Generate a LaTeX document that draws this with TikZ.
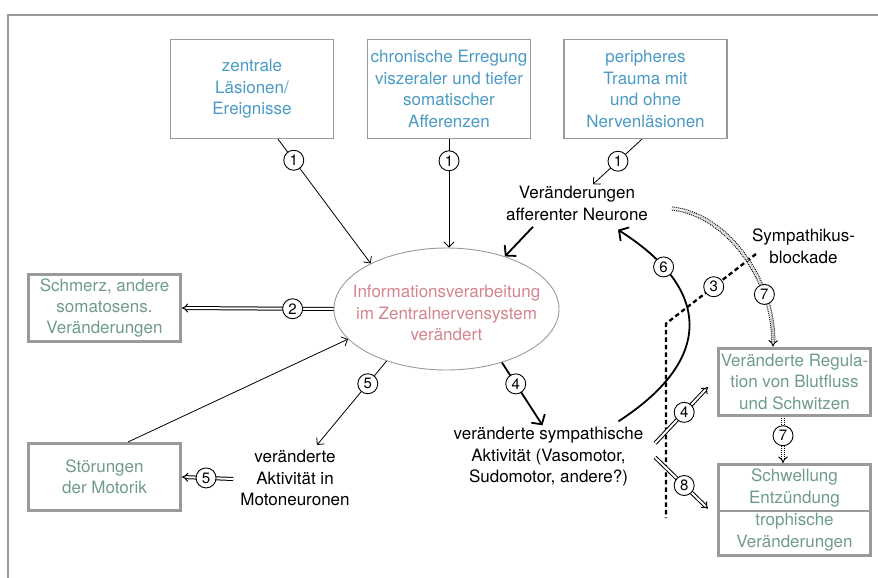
\documentclass[tikz,border=0pt]{standalone}
\usepackage{fontspec}
\setmainfont{TeX Gyre Heros}
\usetikzlibrary{shapes.geometric,arrows.meta,calc}

\definecolor{framegray}{HTML}{9A9A9A}
\definecolor{causeblue}{HTML}{4A9AC4}
\definecolor{effectgreen}{HTML}{6F9C8A}
\definecolor{cnspink}{HTML}{D4848C}

\begin{document}
\begin{tikzpicture}[x=1pt,y=-1pt,
    font=\fontsize{17}{21.5}\selectfont,
    cause/.style={draw=framegray,line width=1.2pt,minimum width=163pt,minimum height=99pt,align=center,text=causeblue,inner sep=0pt},
    effect/.style={draw=framegray,line width=3pt,minimum width=152pt,minimum height=67pt,align=center,text=effectgreen,inner sep=0pt},
    txt/.style={align=center,inner sep=2pt},
    num/.style={circle,draw,fill=white,line width=0.9pt,inner sep=0pt,minimum size=20pt,font=\fontsize{15}{15}\selectfont},
    thinarrow/.style={line width=0.8pt,-{Straight Barb[length=5pt,width=10pt]}},
    thickarrow/.style={line width=1.8pt,-{Straight Barb[length=7pt,width=16pt]}},
    dblarrow/.style={double,double distance=2pt,line width=1pt,-{Implies}},
    dotarrow/.style={double,double distance=2.2pt,line width=1pt,densely dotted,-{Implies}}]
    \useasboundingbox (0,0) rectangle (878,578);
    \draw[framegray,line width=1.5pt] (8,578) -- (8,15) -- (878,15);

    % causes
    \node[cause] (zentrale) at (252,89) {zentrale\\Läsionen/\\Ereignisse};
    \node[cause] (chronisch) at (449,89) {chronische Erregung\\viszeraler und tiefer\\somatischer\\Afferenzen};
    \node[cause] (peripher) at (645.5,89) {peripheres\\Trauma mit\\und ohne\\Nervenläsionen};

    % CNS
    \node[ellipse,draw=framegray,line width=0.9pt,minimum width=225pt,minimum height=122pt,inner sep=0pt] (cns) at (446.5,309) {};
    \node[txt,text=cnspink] (cnstext) at ($(cns.center)+(0,4)$) {Informationsverarbeitung\\im Zentralnervensystem\\verändert};

    % intermediate texts
    \node[txt] (afferent) at (577,203.5) {Veränderungen\\afferenter Neurone};
    \node[txt] (motor) at (295,478) {veränderte\\Aktivität in\\Motoneuronen};
    \node[txt] (sympath) at (548.5,457) {veränderte sympathische\\Aktivität (Vasomotor,\\Sudomotor, andere?)};
    \node[txt] (blockade) at (803.5,246.5) {Sympathikus-\\blockade};

    % effects
    \node[effect] (schmerz) at (104.5,308) {Schmerz, andere\\somatosens.\\Veränderungen};
    \node[effect] (stoerung) at (104.5,477) {Störungen\\der Motorik};
    \node[effect] (regulation) at (794.5,381.5) {Veränderte Regula-\\tion von Blutfluss\\und Schwitzen};
    \node[effect,minimum height=91pt] (folgen) at (794.5,510) {};
    \node[txt,text=effectgreen] (schwellung) at (794.5,488) {Schwellung\\Entzündung};
    \node[txt,text=effectgreen] (trophisch) at (794.5,532) {trophische\\Veränderungen};
    \draw[framegray,line width=1.5pt] (folgen.west |- 0,511) -- (folgen.east |- 0,511);

    % 1
    \draw[thinarrow] ($(zentrale.south)+(26,0)$) -- (cns.149) node[num,pos=0.17] {1};
    \draw[thinarrow] (chronisch.south) -- (chronisch.south |- cns.north) node[num,pos=0.2] {1};
    \draw[thinarrow] ($(peripher.south)+(-3.5,0)$) -- ($(afferent.north)+(16,0)$) node[num,pos=0.49] {1};
    \draw[thickarrow] ($(afferent.south)+(-44,4)$) -- (cns.42);

    % 2
    \draw[dblarrow] (cns.west) -- (schmerz.east) node[num,pos=0.27] {2};

    % motor
    \draw[thinarrow] ($(stoerung.north)+(23.5,0)$) -- (cns.197);
    \draw[thinarrow] (cns.221) -- ($(motor.north)+(22,-3)$) node[num,pos=0.27] {5};
    \draw[dblarrow] ($(motor.west)+(-5,1)$) -- (stoerung.east) node[num,pos=0.53] {5};

    % sympathetic
    \draw[thickarrow] (cns.316) -- ($(sympath.north)+(-6,0)$) node[num,pos=0.34] {4};
    \draw[thickarrow] ($(sympath.north)+(70,-4)$) .. controls (713,360) and (713,290) .. ($(afferent.south)+(41,7)$) node[num,pos=0.8] {6};
    \draw[line width=2.3pt,dash pattern=on 4.5pt off 3pt] (756,254) -- (666,323.6) node[num,pos=0.47,solid] {3} -- (666,518);
    \draw[dotarrow] ($(afferent.east)+(22,5)$) .. controls (730,215) and (775,285) .. ($(regulation.north)+(-21.5,0)$) node[num,pos=0.72,solid] {7};
    \draw[dotarrow] ($(regulation.south)+(-11.5,1)$) -- ($(folgen.north)+(-11.5,0)$) node[num,pos=0.4,solid] {7};
    \draw[dblarrow] ($(sympath.north east)+(9.5,18)$) -- ($(regulation.west)+(-9,5.5)$) node[num,pos=0.55] {4};
    \draw[dblarrow] ($(sympath.north east)+(9.5,32)$) -- ($(folgen.west)+(-9,-1.4)$) node[num,pos=0.55] {8};
\end{tikzpicture}
\end{document}
